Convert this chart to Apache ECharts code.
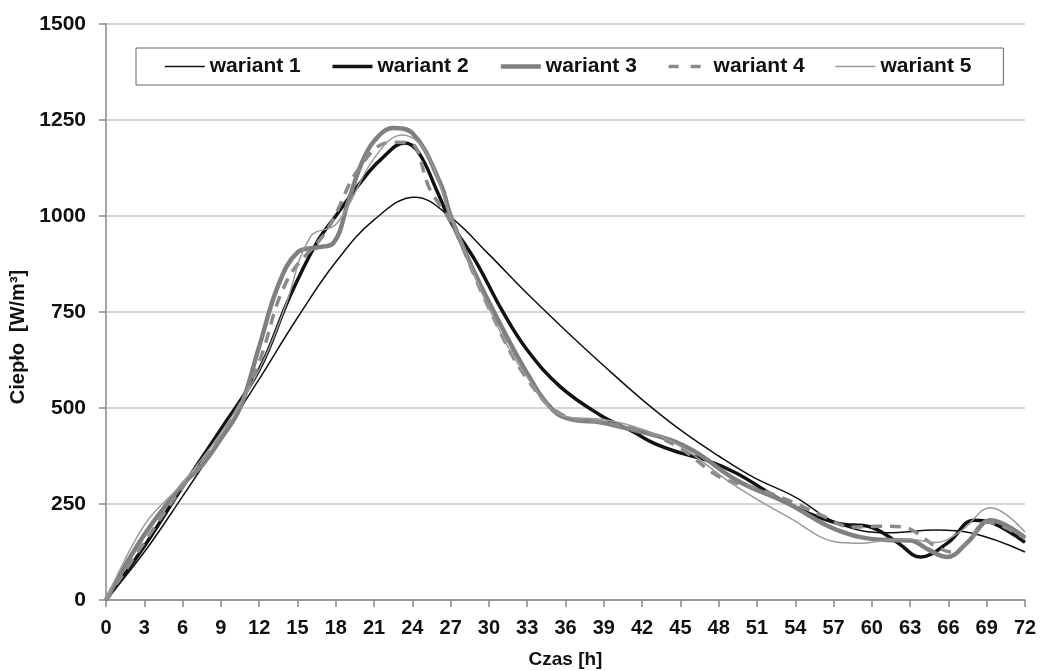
<!DOCTYPE html>
<html>
<head>
<meta charset="utf-8">
<script src="https://cdn.jsdelivr.net/npm/echarts@6/dist/echarts.min.js"></script>
<style>
    html, body { margin: 0; padding: 0; background: #fff; }
    #chart { width: 1042px; height: 671px; }
</style>
</head>
<body>
<div id="chart"></div>
<script>
// [czas h, cieplo W/m3]
const wariant1 = [[0,0],[3,125],[6,270],[9,420],[12,575],[15,735],[18,880],[21,990],[24.2,1049],[27,997],[30,900],[33,798],[36,702],[39,610],[42,522],[45,443],[48,375],[50.7,320],[54,268],[57.3,200],[61.2,175],[65.1,182],[67.7,175],[72,125]];
const wariant2 = [[0,0],[3,140],[6,295],[9,445],[12,600],[14.4,790],[16.5,930],[18,1000],[20.1,1094],[21.5,1146],[23.4,1190],[24.5,1165],[26,1060],[27,985],[29,880],[31.1,750],[33,651],[35.6,555],[38.7,482],[41.3,438],[43,407],[45,383],[47,365],[49.4,330],[53.4,252],[57.3,200],[59.9,190],[62,150],[63.8,112],[66,150],[68,208],[69.5,200],[72,150]];
const wariant3 = [[0,0],[3,170],[6,300],[7.5,350],[9,420],[10.5,500],[12,660],[13.5,820],[15,905],[16.5,918],[17.8,929],[19,1040],[20,1135],[21,1195],[22.5,1229],[24,1216],[26.2,1085],[27,1000],[28.5,880],[30.4,750],[33,590],[35,495],[36.6,469],[38.7,463],[40.3,451],[44.2,417],[46.3,383],[49.4,312],[53.4,252],[57.3,182],[61.2,156],[63,155],[64.5,130],[65.9,112],[67.5,150],[69.3,208],[72,162]];
const wariant4 = [[0,0],[3,150],[6,295],[9,430],[10.5,510],[12,620],[14.2,833],[17.3,963],[19.9,1128],[22.3,1192],[23.8,1190],[25.4,1068],[27,985],[30,760],[33,575],[36,478],[39,462],[42,440],[45,395],[48.1,320],[51,290],[53.8,255],[56,221],[58.5,190],[60.5,192],[62.5,190],[63.5,175],[65.1,138],[66.3,125],[67.5,150],[69,203],[72,160]];
const wariant5 = [[0,0],[3,195],[6,305],[9,435],[12,600],[14,760],[16,945],[18.1,981],[21,1150],[23.2,1211],[25,1170],[27,1000],[30,760],[33,580],[36,478],[39,470],[42,445],[45,400],[49.4,295],[53.4,217],[57.5,150],[59.3,148],[61,155],[63,158],[65,150],[67,180],[69.3,240],[72,177]];

const yTicks = [0, 250, 500, 750, 1000, 1250, 1500];
const seriesNames = ['wariant 1', 'wariant 2', 'wariant 3', 'wariant 4', 'wariant 5'];

const colors = ['#111', '#111', '#808080', '#8a8a8a', '#9a9a9a'];
const widths = [1.5, 3.5, 4.5, 3.5, 1.5];
const dashes = ['solid', 'solid', 'solid', [11, 8], 'solid'];
const legendDashes = ['solid', 'solid', 'solid', [10, 12], 'solid'];

const fontBold = { fontFamily: 'Liberation Sans, Arial, sans-serif', fontWeight: 'bold' };

const allData = [wariant1, wariant2, wariant3, wariant4, wariant5];

const series = allData.map(function (d, i) {
    return {
        name: seriesNames[i],
        type: 'line',
        data: d,
        smooth: 0.4,
        symbol: 'none',
        lineStyle: { color: colors[i], width: widths[i], type: dashes[i] },
        itemStyle: { color: colors[i] }
    };
});

const legendData = seriesNames.map(function (n, i) {
    return {
        name: n,
        itemStyle: { opacity: 0 },
        lineStyle: { color: colors[i], width: widths[i], type: legendDashes[i] }
    };
});

const chart = echarts.init(document.getElementById('chart'));
const option = {
    backgroundColor: '#fff',
    animation: false,
    grid: { left: 106, right: 17, top: 24, bottom: 71, outerBoundsMode: 'none' },
    legend: {
        data: legendData,
        left: 136,
        top: 48,
        padding: [8, 32, 8, 28],
        itemWidth: 40,
        itemHeight: 14,
        itemGap: 30,
        backgroundColor: '#fff',
        borderColor: '#666',
        borderWidth: 1,
        textStyle: Object.assign({ fontSize: 21, color: '#111' }, fontBold)
    },
    xAxis: {
        type: 'value',
        min: 0,
        max: 72,
        interval: 3,
        name: 'Czas [h]',
        nameLocation: 'middle',
        nameGap: 50,
        nameTextStyle: Object.assign({ fontSize: 19, color: '#111' }, fontBold),
        axisLine: { lineStyle: { color: '#888', width: 1.5 } },
        axisTick: { show: true, length: 7, lineStyle: { color: '#888', width: 1.5 } },
        axisLabel: Object.assign({ fontSize: 20, color: '#111', margin: 18 }, fontBold),
        splitLine: { show: false }
    },
    yAxis: {
        type: 'value',
        min: 0,
        max: 1500,
        interval: 250,
        name: 'Ciepło  [W/m³]',
        nameLocation: 'middle',
        nameRotate: 90,
        nameGap: 72,
        nameTextStyle: Object.assign({ fontSize: 20, color: '#111', padding: [0, 50, 0, 0] }, fontBold),
        axisLine: { show: true, lineStyle: { color: '#888', width: 1.5 } },
        axisTick: { show: true, length: 7, lineStyle: { color: '#888', width: 1.5 } },
        axisLabel: Object.assign({ fontSize: 21, color: '#111', margin: 20,
            formatter: function (v) { return yTicks.indexOf(v) >= 0 ? String(v) : ''; } }, fontBold),
        splitLine: { show: true, lineStyle: { color: '#c8c8c8', width: 1.5 } }
    },
    series: series
};
chart.setOption(option);
</script>
</body>
</html>
